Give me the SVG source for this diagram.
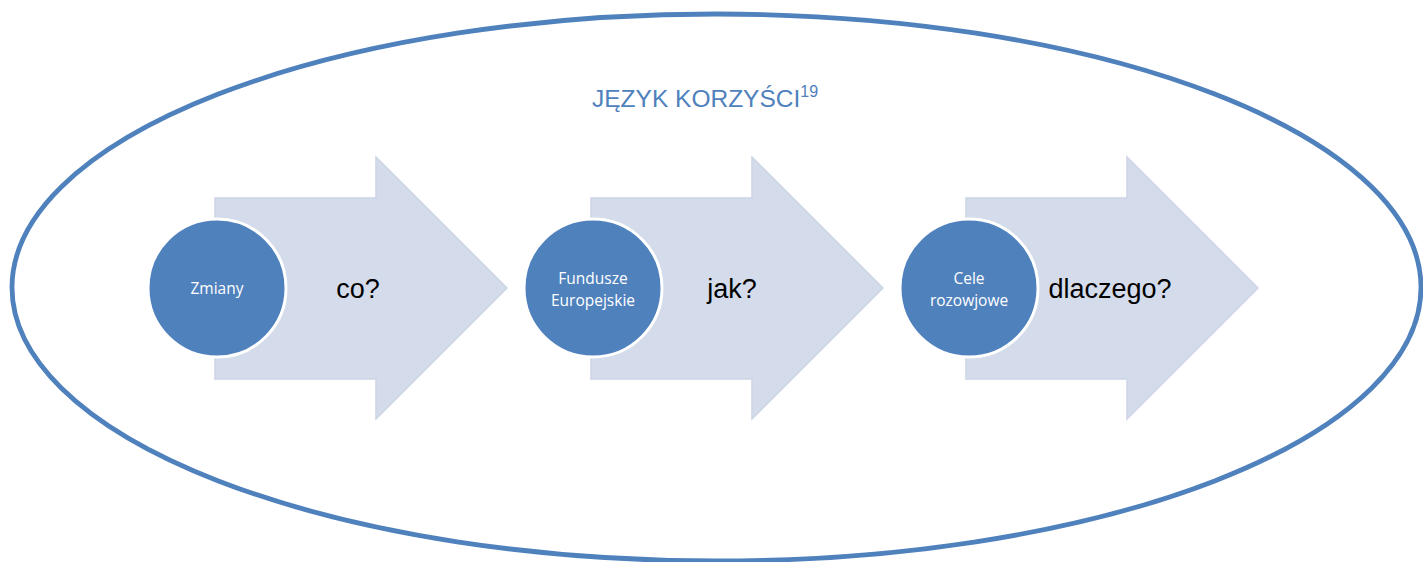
<svg xmlns="http://www.w3.org/2000/svg" width="1423" height="562" viewBox="0 0 1423 562">
<style>
.arrow{fill:#D4DCEB;stroke:#CCD4E6;stroke-width:1.5}
.circ{fill:#4F81BD;stroke:#FFFFFF;stroke-width:3}
.ctext{font-family:"Open Sans","Liberation Sans",sans-serif;font-size:15.5px;fill:#FFFFFF;text-anchor:middle}
.atext{font-family:"Liberation Sans",Arial,sans-serif;font-size:27px;fill:#000000;text-anchor:middle}
.title{font-family:"Liberation Sans",Arial,sans-serif;fill:#4F81BD}
</style>
<rect width="1423" height="562" fill="#FFFFFF"/>
<g id="frame">
<ellipse cx="716.5" cy="287.5" rx="704.5" ry="273.5" fill="none" stroke="#4F81BD" stroke-width="4.8"/>
</g>
<g id="title">
<text class="title" x="592" y="106.5" font-size="24.5">JĘZYK KORZYŚCI<tspan font-size="16" dy="-10">19</tspan></text>
</g>
<g id="step1">
<path class="arrow" d="M215,198 H376 V157 L507,288 L376,419 V379 H215 Z"/>
<circle class="circ" cx="217" cy="288" r="69"/>
<text class="ctext" x="217" y="294">Zmiany</text>
<text class="atext" x="358" y="298">co?</text>
</g>
<g id="step2">
<path class="arrow" d="M591,198 H752 V157 L883,288 L752,419 V379 H591 Z"/>
<circle class="circ" cx="593" cy="288" r="69"/>
<text class="ctext" x="593" y="284">Fundusze</text>
<text class="ctext" x="593" y="306">Europejskie</text>
<text class="atext" x="732" y="298">jak?</text>
</g>
<g id="step3">
<path class="arrow" d="M966,198 H1127 V157 L1258,288 L1127,419 V379 H966 Z"/>
<circle class="circ" cx="969" cy="288" r="69"/>
<text class="ctext" x="969" y="284">Cele</text>
<text class="ctext" x="969" y="306">rozowjowe</text>
<text class="atext" x="1110" y="298">dlaczego?</text>
</g>
<g id="connectors"></g>
</svg>
